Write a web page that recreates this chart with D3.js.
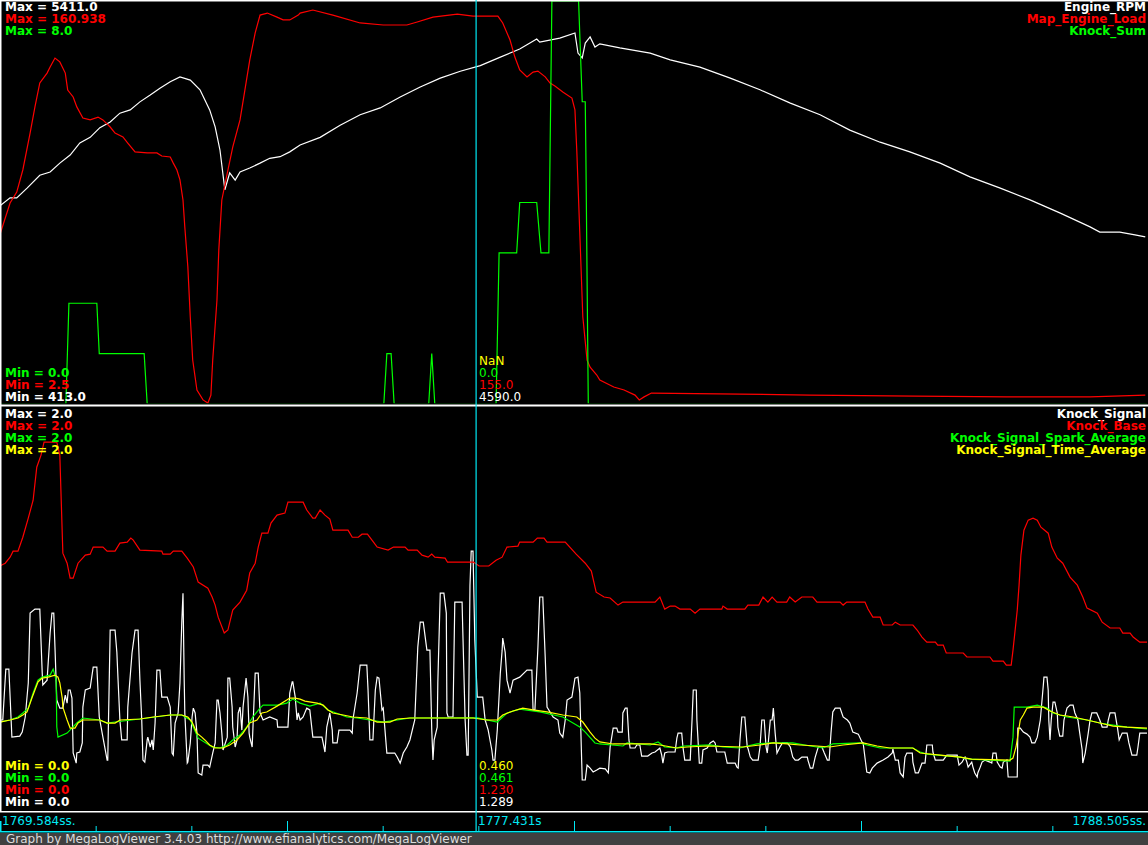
<!DOCTYPE html>
<html>
<head>
<meta charset="utf-8">
<script src="https://cdn.jsdelivr.net/npm/d3@7"></script>
<style>
html, body { margin: 0; padding: 0; background: #000; }
svg { display: block; }
text { font-family: "DejaVu Sans", sans-serif; font-size: 12px; }
</style>
</head>
<body>
<div id="chart"></div>
<script>
// visible window of the log (seconds)
const viewStart = 1769.584, viewEnd = 1788.505, cursorTime = 1777.431;

// ---- top graph ----
const topNames = ['Engine_RPM', 'Map_Engine_Load', 'Knock_Sum'];
const topMax = ['5411.0', '160.938', '8.0'];
const topMin = ['413.0', '2.5', '0.0'];
const topCursor = ['4590.0', '155.0', '0.0', 'NaN'];

const rpmTime = [1769.58,1769.75,1769.86,1770.03,1770.24,1770.41,1770.57,1770.74,1770.90,1771.07,
  1771.23,1771.40,1771.56,1771.73,1771.89,1772.06,1772.22,1772.39,1772.55,1772.72,
  1772.88,1773.04,1773.13,1773.21,1773.29,1773.37,1773.46,1773.54,1773.70,1773.87,
  1774.03,1774.20,1774.36,1774.53,1774.86,1775.19,1775.52,1775.85,1776.18,1776.51,
  1776.84,1777.17,1777.50,1777.83,1778.15,1778.43,1778.48,1778.81,1779.06,1779.11,
  1779.18,1779.23,1779.31,1779.39,1779.47,1779.80,1780.30,1780.63,1781.12,1781.62,
  1782.11,1782.61,1783.10,1783.59,1784.09,1784.58,1785.08,1785.57,1786.07,1786.56,
  1787.06,1787.55,1787.71,1788.04,1788.29,1788.46];
const rpmValue = [2870,2970,2970,3090,3250,3290,3400,3500,3650,3720,
  3840,3910,4020,4060,4160,4245,4330,4410,4470,4430,
  4310,4060,3850,3560,3070,3280,3190,3290,3340,3400,
  3460,3480,3540,3625,3720,3870,4000,4085,4220,4345,
  4455,4540,4610,4715,4815,4940,4900,4950,5015,4765,
  4705,4890,4965,4840,4880,4830,4765,4680,4590,4455,
  4310,4145,4000,3810,3660,3540,3400,3230,3090,2945,
  2780,2610,2545,2545,2510,2485];

const loadTime = [1769.58,1769.75,1769.86,1769.96,1770.08,1770.16,1770.24,1770.36,1770.41,1770.49,
  1770.57,1770.66,1770.70,1770.79,1770.85,1770.95,1771.07,1771.20,1771.28,1771.40,
  1771.48,1771.61,1771.69,1771.81,1772.01,1772.17,1772.25,1772.39,1772.44,1772.50,
  1772.55,1772.60,1772.63,1772.68,1772.72,1772.76,1772.83,1772.93,1773.01,1773.06,
  1773.09,1773.16,1773.19,1773.24,1773.33,1773.42,1773.54,1773.62,1773.70,1773.79,
  1773.87,1773.99,1774.15,1774.25,1774.36,1774.50,1774.53,1774.74,1775.07,1775.52,
  1775.90,1776.29,1776.46,1776.72,1777.12,1777.38,1777.79,1777.87,1777.99,1778.07,
  1778.15,1778.27,1778.37,1778.45,1778.57,1778.65,1778.73,1778.86,1779.01,1779.06,
  1779.09,1779.14,1779.19,1779.26,1779.31,1779.42,1779.47,1779.70,1779.87,1780.05,
  1780.12,1780.20,1780.32,1781.78,1782.93,1784.67,1786.17,1787.55,1788.46];
const loadValue = [68.9,81.5,85.8,94.5,109.0,119.3,128.7,132.6,135.0,138.5,
  137.0,132.6,125.9,123.2,119.3,114.9,114.2,115.3,114.2,111.4,
  109.0,107.5,105.1,101.6,101.2,101.2,100.0,99.6,97.2,94.5,
  90.6,82.7,72.1,56.4,36.7,19.8,8.0,4.1,2.9,6.0,
  19.8,43.4,63.0,82.7,93.3,103.5,114.2,125.9,137.7,148.4,
  155.4,156.2,154.6,153.5,153.5,155.4,156.2,157.4,155.4,152.3,
  151.5,151.5,152.7,154.6,155.8,155.0,155.0,152.3,145.6,138.9,
  133.8,131.1,133.0,133.4,131.1,128.7,127.5,125.2,122.8,118.1,
  102.4,69.7,36.7,19.8,17.0,13.9,11.9,9.2,8.0,6.0,
  4.1,5.3,6.8,6.4,6.0,5.6,5.3,5.3,6.0];

const sumTime = [1769.58,1770.67,1770.72,1771.18,1771.22,1771.96,1772.01,1775.91,1775.96,1776.03,
  1776.08,1776.65,1776.70,1776.75,1777.76,1777.81,1778.10,1778.15,1778.43,1778.50,
  1778.63,1778.68,1779.12,1779.18,1779.23,1779.24,1779.28,1788.50];
const sumValue = [0,0,2,2,1,1,0,0,1,1,
  0,0,1,0,0,3,3,4,4,3,
  3,8,8,6,6,5,0,0];

// ---- bottom graph ----
const botNames = ['Knock_Signal', 'Knock_Base', 'Knock_Signal_Spark_Average', 'Knock_Signal_Time_Average'];
const botMax = ['2.0', '2.0', '2.0', '2.0'];
const botMin = ['0.0', '0.0', '0.0', '0.0'];
const botCursor = ['1.289', '1.230', '0.461', '0.460'];

const signalTime = [1769.58,1769.63,1769.68,1769.73,1769.78,1769.91,1769.95,1770.00,1770.05,1770.08,
  1770.16,1770.24,1770.28,1770.29,1770.36,1770.41,1770.44,1770.47,1770.49,1770.52,
  1770.57,1770.62,1770.66,1770.69,1770.71,1770.74,1770.77,1770.79,1770.84,1770.85,
  1770.90,1770.94,1770.95,1770.99,1771.07,1771.12,1771.18,1771.22,1771.28,1771.35,
  1771.36,1771.40,1771.48,1771.51,1771.53,1771.56,1771.59,1771.68,1771.69,1771.76,
  1771.81,1771.86,1771.89,1771.92,1771.94,1771.97,1772.01,1772.02,1772.06,1772.09,
  1772.11,1772.14,1772.17,1772.22,1772.25,1772.34,1772.39,1772.42,1772.44,1772.47,
  1772.52,1772.55,1772.58,1772.60,1772.62,1772.63,1772.67,1772.68,1772.72,1772.75,
  1772.77,1772.80,1772.83,1772.85,1772.91,1772.93,1773.01,1773.04,1773.09,1773.13,
  1773.16,1773.18,1773.21,1773.24,1773.26,1773.33,1773.34,1773.37,1773.41,1773.42,
  1773.46,1773.49,1773.51,1773.54,1773.57,1773.59,1773.64,1773.67,1773.69,1773.70,
  1773.74,1773.79,1773.84,1773.87,1773.92,1774.03,1774.15,1774.16,1774.33,1774.36,
  1774.40,1774.41,1774.45,1774.48,1774.50,1774.53,1774.58,1774.64,1774.69,1774.74,
  1774.89,1774.91,1774.94,1774.97,1775.02,1775.06,1775.07,1775.14,1775.17,1775.35,
  1775.39,1775.40,1775.47,1775.52,1775.63,1775.65,1775.68,1775.73,1775.77,1775.80,
  1775.83,1775.88,1775.90,1775.96,1776.09,1776.13,1776.18,1776.23,1776.29,1776.34,
  1776.42,1776.47,1776.51,1776.56,1776.62,1776.67,1776.70,1776.72,1776.74,1776.79,
  1776.80,1776.84,1776.90,1776.94,1776.95,1776.97,1777.05,1777.08,1777.20,1777.21,
  1777.25,1777.28,1777.30,1777.31,1777.33,1777.35,1777.38,1777.41,1777.45,1777.54,
  1777.58,1777.63,1777.69,1777.71,1777.74,1777.78,1777.83,1777.86,1777.87,1777.91,
  1777.94,1777.99,1778.04,1778.15,1778.27,1778.35,1778.37,1778.40,1778.45,1778.48,
  1778.53,1778.57,1778.60,1778.70,1778.78,1778.81,1778.86,1778.90,1778.93,1779.01,
  1779.06,1779.11,1779.14,1779.18,1779.23,1779.26,1779.31,1779.36,1779.42,1779.47,
  1779.56,1779.61,1779.64,1779.69,1779.75,1779.77,1779.84,1779.85,1779.89,1779.92,
  1779.95,1779.97,1780.05,1780.08,1780.13,1780.16,1780.26,1780.33,1780.38,1780.46,
  1780.49,1780.51,1780.54,1780.59,1780.71,1780.74,1780.76,1780.82,1780.84,1780.87,
  1780.96,1780.99,1781.01,1781.06,1781.07,1781.11,1781.15,1781.17,1781.24,1781.29,
  1781.34,1781.37,1781.40,1781.53,1781.57,1781.70,1781.73,1781.75,1781.78,1781.81,
  1781.86,1781.90,1781.91,1781.95,1781.99,1782.08,1782.11,1782.14,1782.18,1782.21,
  1782.23,1782.24,1782.28,1782.31,1782.33,1782.36,1782.39,1782.44,1782.48,1782.56,
  1782.61,1782.65,1782.69,1782.74,1782.80,1782.89,1782.90,1782.94,1782.98,1783.02,
  1783.07,1783.13,1783.17,1783.22,1783.25,1783.28,1783.31,1783.35,1783.43,1783.48,
  1783.55,1783.59,1783.64,1783.73,1783.79,1783.81,1783.87,1783.92,1783.96,1784.04,
  1784.14,1784.22,1784.29,1784.30,1784.34,1784.39,1784.42,1784.47,1784.50,1784.53,
  1784.62,1784.63,1784.67,1784.72,1784.78,1784.83,1784.86,1784.95,1784.96,1785.00,
  1785.13,1785.19,1785.36,1785.39,1785.44,1785.49,1785.52,1785.54,1785.60,1785.62,
  1785.65,1785.69,1785.70,1785.74,1785.77,1785.82,1785.90,1785.93,1785.95,1786.00,
  1786.02,1786.07,1786.10,1786.12,1786.18,1786.20,1786.35,1786.36,1786.40,1786.45,
  1786.51,1786.56,1786.59,1786.64,1786.68,1786.73,1786.78,1786.79,1786.84,1786.86,
  1786.87,1786.89,1786.91,1786.94,1786.97,1787.01,1787.02,1787.05,1787.10,1787.12,
  1787.17,1787.22,1787.27,1787.30,1787.35,1787.38,1787.42,1787.43,1787.47,1787.52,
  1787.55,1787.58,1787.66,1787.71,1787.75,1787.83,1787.85,1787.88,1787.96,1788.00,
  1788.03,1788.08,1788.16,1788.19,1788.24,1788.32,1788.34,1788.37,1788.50];
const signalValue = [0.450,0.450,0.703,0.703,0.365,0.370,0.390,0.465,0.634,0.981,
  1.001,1.001,0.683,0.624,0.648,0.882,0.981,0.981,0.812,0.549,
  0.509,0.509,0.574,0.534,0.599,0.599,0.559,0.286,0.236,0.286,
  0.291,0.336,0.514,0.599,0.609,0.713,0.713,0.465,0.365,0.251,
  0.251,0.897,0.897,0.787,0.648,0.450,0.351,0.351,0.514,0.783,
  0.897,0.897,0.648,0.450,0.251,0.241,0.351,0.365,0.316,0.351,
  0.301,0.435,0.698,0.698,0.564,0.564,0.514,0.286,0.276,0.435,
  0.485,0.634,0.936,1.080,0.648,0.485,0.236,0.241,0.336,0.465,
  0.509,0.485,0.385,0.187,0.177,0.226,0.226,0.216,0.286,0.336,
  0.549,0.549,0.485,0.385,0.301,0.365,0.658,0.658,0.514,0.415,
  0.316,0.351,0.485,0.514,0.400,0.514,0.658,0.564,0.385,0.365,
  0.316,0.683,0.683,0.485,0.450,0.465,0.450,0.415,0.415,0.584,
  0.639,0.639,0.564,0.450,0.485,0.450,0.465,0.509,0.500,0.365,
  0.365,0.336,0.291,0.415,0.485,0.400,0.336,0.336,0.400,0.400,
  0.385,0.450,0.584,0.723,0.723,0.599,0.351,0.351,0.599,0.663,
  0.658,0.500,0.509,0.286,0.286,0.266,0.236,0.286,0.316,0.351,
  0.450,0.812,0.936,0.936,0.797,0.797,0.400,0.251,0.351,0.415,
  0.634,1.080,1.080,0.981,0.485,0.465,0.465,1.036,1.036,0.912,
  0.450,0.276,0.276,0.549,1.120,1.289,1.289,0.847,0.564,0.564,
  0.450,0.400,0.301,0.251,0.251,0.400,0.683,0.797,0.857,0.787,
  0.648,0.584,0.648,0.663,0.698,0.698,0.500,0.500,0.812,1.061,
  1.061,0.763,0.514,0.465,0.450,0.385,0.365,0.450,0.549,0.564,
  0.658,0.663,0.584,0.152,0.152,0.226,0.211,0.192,0.202,0.211,
  0.207,0.187,0.316,0.410,0.410,0.390,0.390,0.485,0.509,0.509,
  0.351,0.311,0.311,0.326,0.326,0.271,0.271,0.286,0.291,0.311,
  0.276,0.236,0.286,0.291,0.291,0.360,0.385,0.385,0.316,0.251,
  0.251,0.450,0.599,0.599,0.450,0.236,0.236,0.301,0.311,0.336,
  0.346,0.336,0.291,0.291,0.236,0.236,0.216,0.211,0.351,0.465,
  0.465,0.316,0.311,0.266,0.251,0.251,0.316,0.450,0.450,0.316,
  0.286,0.316,0.450,0.450,0.509,0.385,0.286,0.316,0.336,0.336,
  0.316,0.266,0.251,0.251,0.266,0.266,0.251,0.211,0.211,0.266,
  0.316,0.316,0.286,0.251,0.251,0.385,0.490,0.509,0.509,0.465,
  0.450,0.435,0.390,0.380,0.341,0.336,0.192,0.187,0.211,0.236,
  0.251,0.266,0.286,0.306,0.251,0.251,0.187,0.167,0.266,0.286,
  0.286,0.241,0.187,0.187,0.236,0.236,0.326,0.326,0.291,0.251,
  0.251,0.276,0.276,0.226,0.241,0.266,0.241,0.216,0.241,0.216,
  0.187,0.167,0.187,0.216,0.241,0.251,0.241,0.236,0.286,0.286,
  0.241,0.216,0.211,0.241,0.251,0.167,0.167,0.410,0.410,0.390,
  0.380,0.365,0.336,0.336,0.365,0.450,0.624,0.663,0.663,0.599,
  0.450,0.351,0.450,0.539,0.539,0.485,0.415,0.370,0.370,0.450,
  0.509,0.524,0.524,0.485,0.450,0.385,0.301,0.236,0.286,0.385,
  0.450,0.485,0.485,0.450,0.415,0.415,0.450,0.485,0.485,0.415,
  0.351,0.385,0.385,0.336,0.276,0.276,0.316,0.385,0.385];

const baseTime = [1769.58,1769.67,1769.75,1769.80,1769.88,1769.96,1770.05,1770.13,1770.19,1770.26,
  1770.31,1770.52,1770.57,1770.62,1770.69,1770.74,1770.79,1770.87,1770.99,1771.07,
  1771.12,1771.28,1771.35,1771.48,1771.56,1771.68,1771.74,1771.78,1771.89,1772.25,
  1772.27,1772.39,1772.44,1772.58,1772.67,1772.77,1772.85,1773.01,1773.08,1773.13,
  1773.18,1773.28,1773.34,1773.42,1773.54,1773.65,1773.70,1773.79,1773.84,1773.90,
  1774.00,1774.05,1774.15,1774.28,1774.33,1774.58,1774.64,1774.74,1774.78,1774.86,
  1774.94,1775.02,1775.07,1775.32,1775.39,1775.49,1775.55,1775.64,1775.74,1775.80,
  1775.98,1776.07,1776.26,1776.31,1776.46,1776.54,1776.64,1776.70,1776.75,1776.92,
  1776.96,1777.39,1777.48,1777.64,1777.76,1777.86,1777.94,1778.12,1778.15,1778.37,
  1778.44,1778.55,1778.60,1778.90,1779.08,1779.23,1779.33,1779.41,1779.54,1779.64,
  1779.77,1779.85,1780.38,1780.46,1780.54,1780.63,1780.71,1780.79,1780.96,1781.04,
  1781.12,1781.48,1781.50,1781.57,1781.86,1781.91,1782.09,1782.16,1782.24,1782.31,
  1782.39,1782.55,1782.60,1782.69,1782.80,1782.98,1783.05,1783.43,1783.48,1783.54,
  1783.84,1783.89,1783.97,1784.09,1784.14,1784.29,1784.34,1784.42,1784.63,1784.70,
  1784.78,1784.86,1785.00,1785.04,1785.13,1785.18,1785.46,1785.52,1785.90,1785.95,
  1786.12,1786.17,1786.25,1786.28,1786.35,1786.38,1786.41,1786.46,1786.53,1786.61,
  1786.68,1786.74,1786.86,1786.92,1787.01,1787.10,1787.22,1787.34,1787.43,1787.50,
  1787.67,1787.75,1787.88,1788.04,1788.09,1788.21,1788.26,1788.37,1788.50];
const baseValue = [1.215,1.229,1.259,1.289,1.289,1.358,1.453,1.542,1.706,1.766,
  1.830,1.830,1.766,1.279,1.229,1.155,1.155,1.229,1.269,1.274,
  1.309,1.309,1.289,1.289,1.329,1.334,1.354,1.344,1.294,1.289,
  1.274,1.274,1.289,1.289,1.254,1.210,1.135,1.105,1.061,1.021,
  0.961,0.882,0.897,0.996,1.036,1.095,1.180,1.229,1.309,1.378,
  1.378,1.428,1.468,1.478,1.532,1.532,1.493,1.453,1.453,1.493,
  1.468,1.448,1.393,1.393,1.358,1.358,1.373,1.373,1.334,1.309,
  1.294,1.309,1.309,1.294,1.294,1.269,1.259,1.274,1.259,1.254,
  1.234,1.234,1.215,1.215,1.244,1.259,1.309,1.314,1.334,1.334,
  1.354,1.354,1.334,1.334,1.274,1.229,1.190,1.085,1.061,1.056,
  1.021,1.036,1.036,1.061,1.001,1.016,1.016,1.001,1.001,0.981,
  1.001,1.001,1.016,1.001,1.001,1.021,1.021,1.061,1.036,1.061,
  1.036,1.036,1.061,1.036,1.061,1.061,1.036,1.036,1.021,1.036,
  1.036,1.001,0.961,0.961,0.922,0.922,0.936,0.922,0.922,0.897,
  0.862,0.837,0.837,0.822,0.822,0.783,0.783,0.763,0.763,0.743,
  0.743,0.723,0.723,0.797,0.996,1.120,1.269,1.393,1.443,1.453,
  1.443,1.408,1.378,1.309,1.254,1.229,1.160,1.120,1.061,1.006,
  0.981,0.936,0.907,0.907,0.882,0.882,0.862,0.837,0.837];

const sparkTime = [1769.58,1769.75,1769.88,1769.96,1770.05,1770.13,1770.21,1770.28,1770.41,1770.46,
  1770.51,1770.52,1770.54,1770.69,1770.85,1770.95,1771.23,1771.35,1771.48,1771.89,
  1772.39,1772.58,1772.72,1772.85,1773.08,1773.21,1773.33,1773.42,1773.54,1773.65,
  1773.75,1773.87,1773.92,1774.16,1774.31,1774.41,1774.53,1774.69,1774.86,1774.99,
  1775.30,1775.47,1775.90,1776.34,1777.45,1777.78,1777.94,1778.15,1778.48,1778.86,
  1779.14,1779.23,1779.39,1779.47,1779.85,1779.92,1780.30,1780.43,1780.54,1780.74,
  1780.84,1781.29,1781.50,1781.78,1781.90,1782.06,1782.28,1782.65,1782.94,1783.15,
  1783.31,1783.76,1783.87,1784.09,1784.63,1784.75,1784.86,1785.41,1785.57,1786.23,
  1786.28,1786.30,1786.51,1786.68,1786.84,1786.94,1787.17,1787.50,1787.71,1787.93,
  1788.16,1788.50];
const sparkValue = [0.440,0.450,0.465,0.485,0.509,0.584,0.648,0.663,0.673,0.703,
  0.648,0.415,0.365,0.385,0.435,0.460,0.450,0.435,0.440,0.455,
  0.475,0.475,0.450,0.360,0.316,0.311,0.326,0.351,0.375,0.415,
  0.465,0.509,0.524,0.524,0.534,0.554,0.534,0.519,0.534,0.500,
  0.465,0.460,0.440,0.460,0.461,0.440,0.485,0.504,0.490,0.465,
  0.415,0.390,0.336,0.331,0.321,0.336,0.326,0.341,0.316,0.311,
  0.321,0.326,0.316,0.311,0.321,0.331,0.336,0.336,0.321,0.311,
  0.331,0.336,0.326,0.311,0.311,0.291,0.281,0.266,0.256,0.246,
  0.365,0.514,0.514,0.524,0.509,0.485,0.465,0.450,0.435,0.425,
  0.415,0.405];

const timeAvgTime = [1769.58,1769.75,1769.88,1769.96,1770.03,1770.11,1770.16,1770.21,1770.28,1770.38,
  1770.49,1770.54,1770.57,1770.61,1770.62,1770.69,1770.74,1770.82,1770.87,1770.95,
  1771.23,1771.35,1771.48,1771.56,1771.89,1772.11,1772.39,1772.58,1772.68,1772.75,
  1772.83,1772.91,1772.96,1773.04,1773.13,1773.26,1773.37,1773.49,1773.59,1773.70,
  1773.82,1773.90,1773.98,1774.15,1774.31,1774.36,1774.45,1774.53,1774.61,1774.81,
  1774.91,1774.99,1775.07,1775.24,1775.40,1775.63,1775.80,1776.01,1776.13,1776.34,
  1777.38,1777.61,1777.78,1777.87,1778.04,1778.20,1778.37,1778.60,1778.86,1779.09,
  1779.19,1779.31,1779.39,1779.47,1779.69,1780.30,1780.46,1780.74,1780.91,1781.24,
  1781.83,1782.11,1782.33,1782.56,1782.77,1783.05,1783.26,1783.48,1783.81,1784.04,
  1784.25,1784.63,1784.75,1785.08,1785.41,1785.60,1786.23,1786.28,1786.33,1786.40,
  1786.45,1786.51,1786.61,1786.78,1786.89,1787.05,1787.17,1787.27,1787.50,1787.71,
  1787.93,1788.16,1788.50];
const timeAvgValue = [0.440,0.450,0.460,0.475,0.490,0.559,0.599,0.639,0.658,0.663,
  0.673,0.663,0.634,0.559,0.514,0.450,0.410,0.410,0.435,0.450,
  0.450,0.435,0.435,0.450,0.455,0.465,0.475,0.475,0.465,0.440,
  0.385,0.365,0.351,0.326,0.311,0.311,0.326,0.351,0.385,0.435,
  0.450,0.485,0.490,0.519,0.549,0.559,0.559,0.554,0.544,0.534,
  0.524,0.500,0.485,0.475,0.465,0.460,0.440,0.440,0.455,0.460,
  0.460,0.450,0.450,0.475,0.495,0.509,0.500,0.490,0.475,0.465,
  0.440,0.390,0.360,0.341,0.331,0.331,0.326,0.311,0.316,0.321,
  0.316,0.326,0.336,0.331,0.326,0.321,0.316,0.326,0.336,0.321,
  0.311,0.311,0.286,0.276,0.266,0.256,0.251,0.261,0.316,0.450,
  0.475,0.509,0.514,0.514,0.495,0.475,0.470,0.465,0.450,0.435,
  0.420,0.415,0.410];

// time bar labels and footer
const timeLabels = ['1769.584ss.', '1777.431s', '1788.505ss.'];
const footerText = 'Graph by MegaLogViewer 3.4.03 http://www.efianalytics.com/MegaLogViewer';

// ------------------------------------------------------------
const W = 1148, H = 845;
const WHITE = '#ffffff', RED = '#ff0000', GREEN = '#00ff00', YELLOW = '#ffff00', CYAN = '#00e8f4';
const topColors = [WHITE, RED, GREEN];
const botColors = [WHITE, RED, GREEN, YELLOW];

const svg = d3.select('#chart').append('svg')
    .attr('width', W)
    .attr('height', H);

svg.append('rect').attr('width', W).attr('height', H).attr('fill', '#000');

const x = d3.scaleLinear().domain([viewStart, viewEnd]).range([0, W]);

const topPanel = {top: 1, bottom: 404};
const botPanel = {top: 408, bottom: 810.6};

const yRpm = d3.scaleLinear().domain([413, 5411]).range([topPanel.bottom, topPanel.top]);
const yLoad = d3.scaleLinear().domain([2.5, 160.938]).range([topPanel.bottom, topPanel.top]);
const ySum = d3.scaleLinear().domain([0, 8]).range([topPanel.bottom, topPanel.top]);
const yKnock = d3.scaleLinear().domain([0, 2]).range([botPanel.bottom, botPanel.top]);

// the zero level of each trace sits on the panel edge, under the border
const defs = svg.append('defs');
defs.append('clipPath').attr('id', 'clipTop')
    .append('rect').attr('x', 1).attr('y', 0).attr('width', W - 2).attr('height', 403.3);
defs.append('clipPath').attr('id', 'clipBot')
    .append('rect').attr('x', 1).attr('y', 406).attr('width', W - 2).attr('height', 405);

function trace(times, values, y, color, clipId) {
    const pts = d3.zip(times, values);
    svg.append('path')
        .datum(pts)
        .attr('clip-path', `url(#${clipId})`)
        .attr('fill', 'none')
        .attr('stroke', color)
        .attr('stroke-width', 1.2)
        .attr('d', d3.line().x(d => x(d[0])).y(d => y(d[1])));
}

// top graph traces
trace(rpmTime, rpmValue, yRpm, WHITE, 'clipTop');
trace(loadTime, loadValue, yLoad, RED, 'clipTop');
trace(sumTime, sumValue, ySum, GREEN, 'clipTop');

// bottom graph traces
trace(signalTime, signalValue, yKnock, WHITE, 'clipBot');
trace(baseTime, baseValue, yKnock, RED, 'clipBot');
trace(sparkTime, sparkValue, yKnock, GREEN, 'clipBot');
trace(timeAvgTime, timeAvgValue, yKnock, YELLOW, 'clipBot');

// panel borders
svg.append('rect').attr('x', 0).attr('y', 0).attr('width', W).attr('height', 1.5).attr('fill', WHITE);
svg.append('rect').attr('x', 0).attr('y', 404.5).attr('width', W).attr('height', 2).attr('fill', WHITE);
svg.append('rect').attr('x', 0).attr('y', 811).attr('width', W).attr('height', 1.5).attr('fill', WHITE);
svg.append('rect').attr('x', 0).attr('y', 0).attr('width', 1.5).attr('height', 812).attr('fill', WHITE);

// labels
const txt = svg.append('g');

function label(s, color, px, baseline, bold, anchor) {
    return txt.append('text')
        .attr('x', px)
        .attr('y', baseline)
        .attr('fill', color)
        .attr('font-weight', bold ? 'bold' : 'normal')
        .attr('text-anchor', anchor || 'start')
        .text(s);
}

const cx = x(cursorTime);

topNames.forEach((n, i) => {
    label('Max = ' + topMax[i], topColors[i], 5, 11 + i * 12, true);
    label(n, topColors[i], W - 2, 11 + i * 12, true, 'end');
    label('Min = ' + topMin[i], topColors[i], 5, 401 - i * 12, true);
});
[WHITE, RED, GREEN, YELLOW].forEach((c, i) => {
    label(topCursor[i], c, cx + 3, 401 - i * 12, false);
});

botNames.forEach((n, i) => {
    label('Max = ' + botMax[i], botColors[i], 5, 418 + i * 12, true);
    label(n, botColors[i], W - 2, 418 + i * 12, true, 'end');
    label('Min = ' + botMin[i], botColors[i], 5, 806 - i * 12, true);
    label(botCursor[i], botColors[i], cx + 3, 806 - i * 12, false);
});

// cursor line
svg.append('line')
    .attr('x1', cx).attr('x2', cx)
    .attr('y1', 0).attr('y2', 832)
    .attr('stroke', CYAN)
    .attr('stroke-width', 1.2);

// time bar
const tickTimes = d3.range(1, 12).map(i => viewStart + i * (viewEnd - viewStart) / 12);
const minorTicks = tickTimes.filter((d, i) => (i + 1) % 3 !== 0);
const majorTicks = tickTimes.filter((d, i) => (i + 1) % 3 === 0);

const axisMinor = svg.append('g').attr('transform', 'translate(0,831)')
    .call(d3.axisTop(x).tickValues(minorTicks).tickSize(5).tickFormat(''));
const axisMajor = svg.append('g').attr('transform', 'translate(0,831)')
    .call(d3.axisTop(x).tickValues(majorTicks).tickSize(10).tickFormat(''));
[axisMinor, axisMajor].forEach(a => {
    a.select('.domain').remove();
    a.selectAll('line').attr('stroke', CYAN);
});

svg.append('rect').attr('x', 0).attr('y', 831).attr('width', W).attr('height', 1.5).attr('fill', CYAN);
svg.append('rect').attr('x', 0).attr('y', 821).attr('width', 1.5).attr('height', 11).attr('fill', CYAN);

svg.append('text').attr('x', 2).attr('y', 825).attr('fill', CYAN).text(timeLabels[0]);
svg.append('text').attr('x', cx + 2).attr('y', 825).attr('fill', CYAN).text(timeLabels[1]);
svg.append('text').attr('x', W - 2).attr('y', 825).attr('fill', CYAN)
    .attr('text-anchor', 'end').text(timeLabels[2]);

// footer
svg.append('rect').attr('x', 0).attr('y', 833).attr('width', W).attr('height', 12).attr('fill', '#404040');
svg.append('text').attr('x', 6).attr('y', 843).attr('fill', '#dcdcdc').text(footerText);
</script>
</body>
</html>
